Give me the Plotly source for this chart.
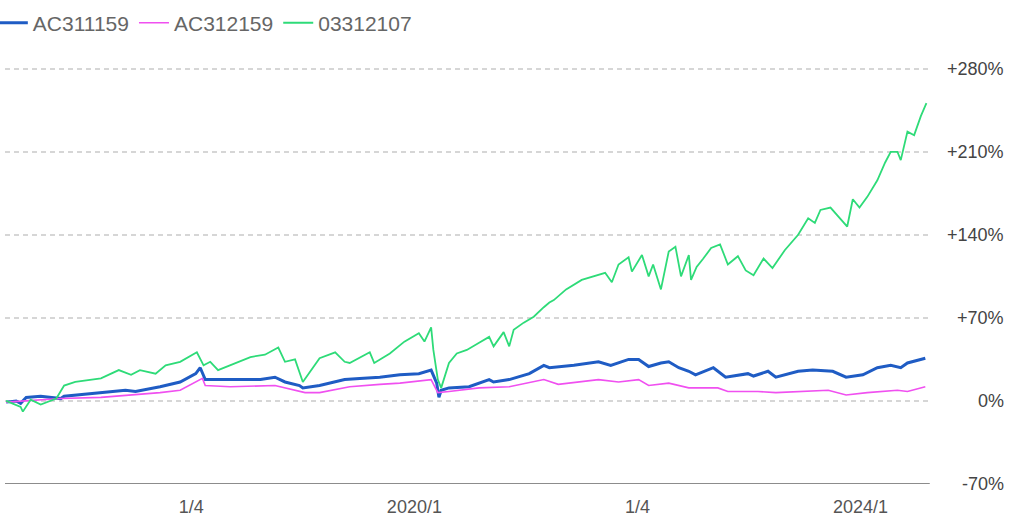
import plotly.graph_objects as go

# ---- data (x = fractional year, y = % change) ----
blue_name = "AC311159"
pink_name = "AC312159"
green_name = "03312107"

blue_t = [2016.34, 2016.43, 2016.47, 2016.52, 2016.65, 2016.83, 2016.86, 2017.19, 2017.41, 2017.50,
          2017.72, 2017.90, 2018.04, 2018.08, 2018.125, 2018.35, 2018.62, 2018.75, 2018.84, 2018.97,
          2019.00, 2019.15, 2019.375, 2019.51, 2019.69, 2019.87, 2020.04, 2020.15, 2020.20, 2020.22,
          2020.24, 2020.31, 2020.49, 2020.67, 2020.71, 2020.85, 2021.03, 2021.16, 2021.21, 2021.43,
          2021.65, 2021.76, 2021.83, 2021.92, 2022.01, 2022.10, 2022.21, 2022.28, 2022.37, 2022.46,
          2022.52, 2022.68, 2022.79, 2022.99, 2023.04, 2023.17, 2023.24, 2023.44, 2023.57, 2023.75,
          2023.87, 2024.02, 2024.15, 2024.27, 2024.36, 2024.42, 2024.58]
blue_v = [-1, 0, -2, 3, 4, 2, 4, 7, 9, 8,
          12, 16, 23, 28, 18, 18, 18, 20, 16, 13,
          11, 13, 18, 19, 20, 22, 23, 26, 15, 3,
          9, 11, 12, 18, 16, 18, 23, 30, 28, 30,
          33, 30, 32, 35, 35, 29, 32, 33, 28, 25,
          22, 28, 20, 23, 21, 25, 20, 25, 26, 25,
          20, 22, 28, 30, 28, 32, 36]

pink_t = [2016.34, 2016.83, 2017.19, 2017.46, 2017.72, 2017.90, 2018.05, 2018.10, 2018.125, 2018.35,
          2018.75, 2018.88, 2019.02, 2019.15, 2019.42, 2019.69, 2019.87, 2020.15, 2020.21, 2020.31,
          2020.58, 2020.85, 2021.16, 2021.29, 2021.65, 2021.83, 2022.01, 2022.10, 2022.28, 2022.46,
          2022.72, 2022.81, 2023.08, 2023.24, 2023.44, 2023.71, 2023.87, 2024.06, 2024.33, 2024.42,
          2024.58]
pink_v = [-1, 2, 3, 5, 7, 9, 16, 19, 13, 12,
          13, 10, 7, 7, 12, 14, 15, 18, 7, 8,
          11, 12, 18, 14, 18, 16, 18, 13, 15, 11,
          11, 8, 8, 7, 8, 9, 5, 7, 9, 8,
          12]

green_t = [2016.34, 2016.43, 2016.47, 2016.49, 2016.56, 2016.65, 2016.79, 2016.86, 2016.96, 2017.19,
           2017.35, 2017.46, 2017.54, 2017.68, 2017.77, 2017.90, 2018.05, 2018.11, 2018.17, 2018.24,
           2018.35, 2018.53, 2018.66, 2018.78, 2018.84, 2018.93, 2019.00, 2019.11, 2019.15, 2019.29,
           2019.375, 2019.42, 2019.55, 2019.60, 2019.64, 2019.78, 2019.91, 2020.04, 2020.09, 2020.15,
           2020.17, 2020.21, 2020.24, 2020.28, 2020.31, 2020.38, 2020.47, 2020.58, 2020.67, 2020.71,
           2020.80, 2020.85, 2020.89, 2020.98, 2021.07, 2021.16, 2021.21, 2021.25, 2021.36, 2021.50,
           2021.65, 2021.71, 2021.77, 2021.83, 2021.92, 2021.95, 2022.04, 2022.10, 2022.14, 2022.21,
           2022.28, 2022.34, 2022.39, 2022.46, 2022.48, 2022.53, 2022.59, 2022.66, 2022.74, 2022.81,
           2022.90, 2022.97, 2023.04, 2023.13, 2023.21, 2023.32, 2023.44, 2023.53, 2023.59, 2023.64,
           2023.73, 2023.82, 2023.88, 2023.93, 2023.99, 2024.06, 2024.15, 2024.22, 2024.27, 2024.33,
           2024.36, 2024.42, 2024.48, 2024.54, 2024.59]
green_v = [0, -3, -5, -9, 1, -3, 2, 13, 16, 19,
           26, 22, 26, 23, 30, 33, 41, 30, 33, 26,
           30, 37, 39, 45, 33, 35, 16, 30, 36, 41,
           33, 32, 39, 41, 32, 40, 50, 57, 50, 62,
           43, 18, 11, 23, 32, 40, 43, 49, 54, 46,
           58, 46, 60, 66, 71, 79, 83, 85, 94, 102,
           106, 108, 100, 115, 121, 109, 123, 105, 115, 94,
           126, 130, 105, 123, 102, 113, 120, 129, 132, 115,
           122, 110, 106, 120, 112, 127, 140, 154, 150, 161,
           163, 153, 147, 170, 163, 172, 186, 201, 210, 210,
           203, 227, 224, 240, 251]

x_tick_vals = [2018, 2020, 2022, 2024]
x_tick_text = ["1/4", "2020/1", "1/4", "2024/1"]
y_tick_vals = [-70, 0, 70, 140, 210, 280]
y_tick_text = ["-70%", "0%", "+70%", "+140%", "+210%", "+280%"]

FONT = "Liberation Sans, Arial, sans-serif"

fig = go.Figure()
fig.add_trace(go.Scatter(x=blue_t, y=blue_v, mode="lines", name=blue_name,
                         line=dict(color="#1f5cc4", width=3)))
fig.add_trace(go.Scatter(x=pink_t, y=pink_v, mode="lines", name=pink_name,
                         line=dict(color="#f050f0", width=1.6)))
fig.add_trace(go.Scatter(x=green_t, y=green_v, mode="lines", name=green_name,
                         line=dict(color="#2edb78", width=1.8)))

# right-aligned y tick labels as annotations at the tick values
annotations = [dict(x=0.987, xref="paper", y=v, yref="y", text=t, showarrow=False,
                    xanchor="right", yanchor="middle",
                    font=dict(family=FONT, size=18, color="#444444"))
               for v, t in zip(y_tick_vals, y_tick_text)]

fig.update_layout(
    width=1024, height=521,
    margin=dict(l=5, r=5, t=45, b=37, autoexpand=False),
    paper_bgcolor="white", plot_bgcolor="white",
    font=dict(family=FONT, color="#555555"),
    showlegend=True,
    legend=dict(orientation="h", x=-0.012, xanchor="left",
                yref="container", y=0.995, yanchor="top",
                font=dict(size=21, color="#666666"), itemwidth=30,
                bgcolor="rgba(0,0,0,0)"),
    xaxis=dict(domain=[0, 0.912], range=[2016.33, 2024.62], showgrid=False, zeroline=False,
               tickvals=x_tick_vals, ticktext=x_tick_text, ticks="",
               tickfont=dict(size=18, color="#555555"), ticklabelstandoff=10,
               showline=False, automargin=False),
    yaxis=dict(range=[-70, 300], side="right", tickvals=y_tick_vals, showticklabels=False,
               showgrid=True, gridcolor="#d6d6d6", griddash="5px,4px", gridwidth=1.5,
               zeroline=False, showline=False, ticks="", automargin=False),
    annotations=annotations,
    shapes=[dict(type="line", xref="x domain", yref="y", x0=0, x1=1, y0=-70, y1=-70,
                 line=dict(color="#666666", width=1.5))],
)

fig.write_html("out.html")
